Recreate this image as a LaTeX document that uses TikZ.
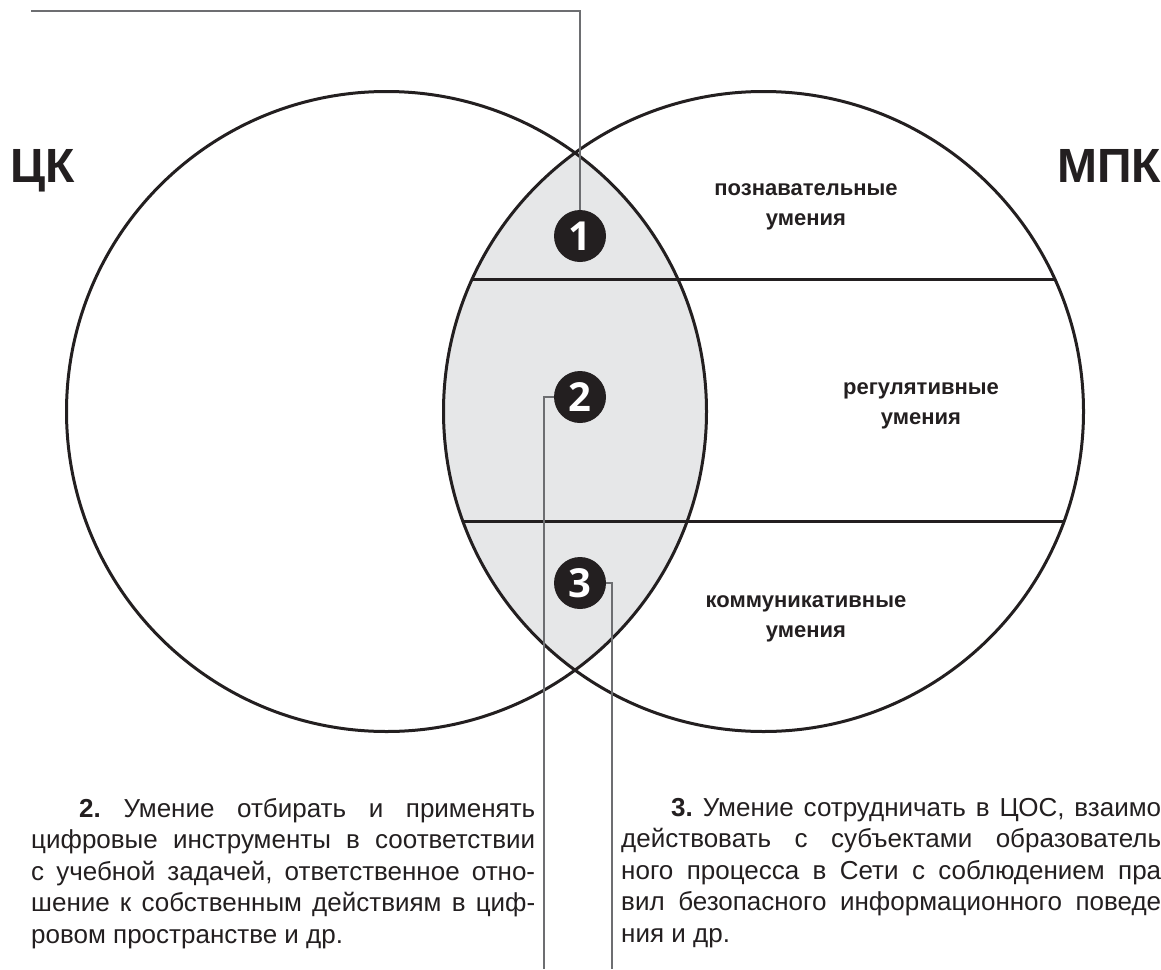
\documentclass[tikz,border=0pt]{standalone}
\usepackage{fontspec}
\setmainfont{Liberation Sans}
\newfontfamily\digitfont{Open Sans}
\definecolor{ink}{HTML}{231F20}
\definecolor{lens}{HTML}{E6E7E8}
\definecolor{leadergray}{HTML}{6D6E71}

\begin{document}
\begin{tikzpicture}[x=1pt,y=-1pt,
    ring/.style={draw=ink, line width=3pt},
    divider/.style={draw=ink, line width=3pt},
    badge/.style={circle, fill=ink, text=white, minimum size=52pt, inner sep=0pt,
      font=\digitfont\bfseries\fontsize{40}{40}\selectfont},
    skill/.style={align=center, text=ink, inner sep=0pt, font=\bfseries\fontsize{22}{30}\selectfont},
    sector/.style={inner sep=0pt, text=ink, font=\bfseries\fontsize{48}{48}\selectfont},
    note/.style={inner sep=0pt, anchor=north west, align=justify, text=ink,
      font=\fontsize{26}{31.5}\selectfont\frenchspacing},
    leader/.style={draw=leadergray, line width=1.2pt}]
    \useasboundingbox (0,0) rectangle (1161,969);
    \clip (0,0) rectangle (1161,969);
    % Circles
    \coordinate (lc) at (386.5,411.5);
    \coordinate (rc) at (763.5,411.5);
    \begin{scope}
      \clip (lc) circle (320pt);
      \fill[lens] (rc) circle (320pt);
    \end{scope}
    \begin{scope}
      \clip (rc) circle (320pt);
      \draw[divider] (400,279) -- (1100,279);
      \draw[divider] (400,521) -- (1100,521);
    \end{scope}
    \draw[ring] (lc) circle (320pt);
    \draw[ring] (rc) circle (320pt);
    % Nodes
    \node[sector, anchor=base west] (ck) at (10,182) {ЦК}; %
    \node[sector, anchor=base east] (mpk) at (1161,182) {МПК}; %
    \node[skill] (cog) at (806,206.5) {познавательные\\умения}; %
    \node[skill] (reg) at (921,405.5) {регулятивные\\умения}; %
    \node[skill] (com) at (806,618.5) {коммуникативные\\умения}; %
    \node[badge] (b1) at (580,236) {1}; %
    \node[badge] (b2) at (580,397) {2}; %
    \node[badge] (b3) at (580,583) {3}; %
    \node[note, text width=504pt] (n2) at (31,798) {\hspace*{48pt}\textbf{2.} Умение отбирать и применять\linebreak
      цифровые инструменты в соответствии\linebreak
      с учебной задачей, ответственное отно-\linebreak
      шение к собственным действиям в циф-\linebreak
      ровом пространстве и др.}; %
    \node[note, text width=540pt] (n3) at (621,798) {\hspace*{50pt}\textbf{3.} Умение сотрудничать в ЦОС, взаимо\linebreak
      действовать с субъектами образователь\linebreak
      ного процесса в Сети с соблюдением пра\linebreak
      вил безопасного информационного поведе\linebreak
      ния и др.}; %
    % Leaders
    \coordinate (t1) at (31,11);
    \coordinate (e2) at (544,969);
    \coordinate (e3) at (612,969);
    \draw[leader] (b1.north) |- (t1); %
    \draw[leader] (b2.west) -| (e2); %
    \draw[leader] (b3.east) -| (e3); %
  \end{tikzpicture}
\end{document}
